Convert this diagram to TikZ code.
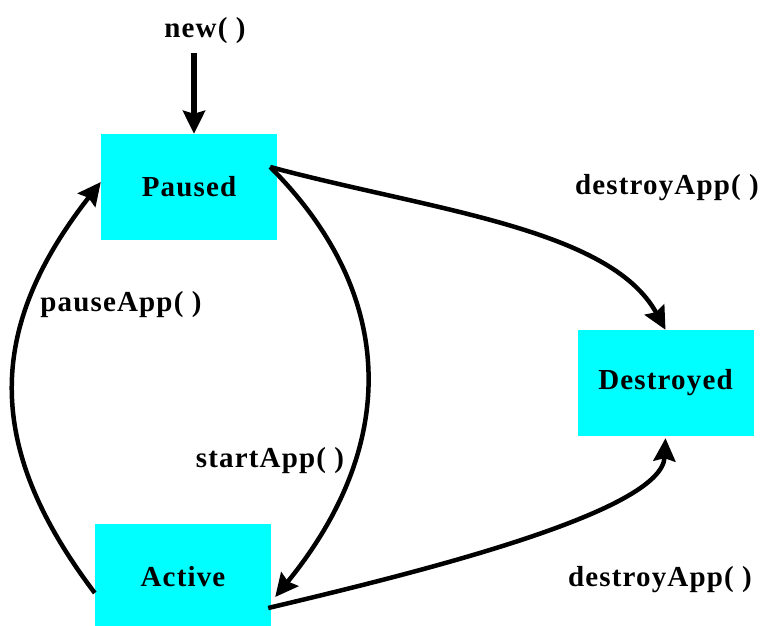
\documentclass[tikz,border=0pt]{standalone}
\usepackage{fontspec}
\setmainfont{Liberation Serif}[LetterSpace=4]
\usetikzlibrary{arrows.meta}
\definecolor{boxcyan}{RGB}{0,255,255}
\begin{document}
\begin{tikzpicture}[x=1pt,y=-1pt,
  box/.style={fill=boxcyan, draw=none, minimum width=176pt, minimum height=106pt, inner sep=0pt},
  lbl/.style={anchor=base, inner sep=0pt},
  trans/.style={line width=4.5pt, -{Stealth[length=23pt,width=22pt,inset=3pt]}},
  font=\bfseries\fontsize{29}{33}\selectfont]
\useasboundingbox (0,0) rectangle (763,626);
\node[box] (paused) at (189,187) {Paused};
\node[box] (destroyed) at (665.5,383) {Destroyed};
\node[box] (active) at (183,577) {Active};

\node[lbl] (newlbl) at (205,38) {new( )};
\node[lbl] (dtop) at (667,194) {destroyApp( )};
\node[lbl] (pauselbl) at (121,311) {pauseApp( )};
\node[lbl] (startlbl) at (270,467) {startApp( )};
\node[lbl] (dbot) at (660,586) {destroyApp( )};

\coordinate (newstart) at (194,53);
\draw[trans, line width=5.5pt] (newstart) -- ([shift={(5,0)}]paused.north);

\draw[trans] ([shift={(-7,-20)}]paused.east) .. controls (430,210) and (610,228) .. (destroyed.north);
\draw[trans] ([shift={(-7,-20)}]paused.east) .. controls (400,297) and (397,448) .. ([shift={(4,20)}]active.east);
\draw[trans] ([shift={(0,16)}]active.west) .. controls (-15,448) and (-15,330) .. ([shift={(0,-5)}]paused.west);
\draw[trans] ([shift={(-3,31)}]active.east) .. controls (420,572) and (662,512) .. ([shift={(0,2)}]destroyed.south);
\end{tikzpicture}
\end{document}
